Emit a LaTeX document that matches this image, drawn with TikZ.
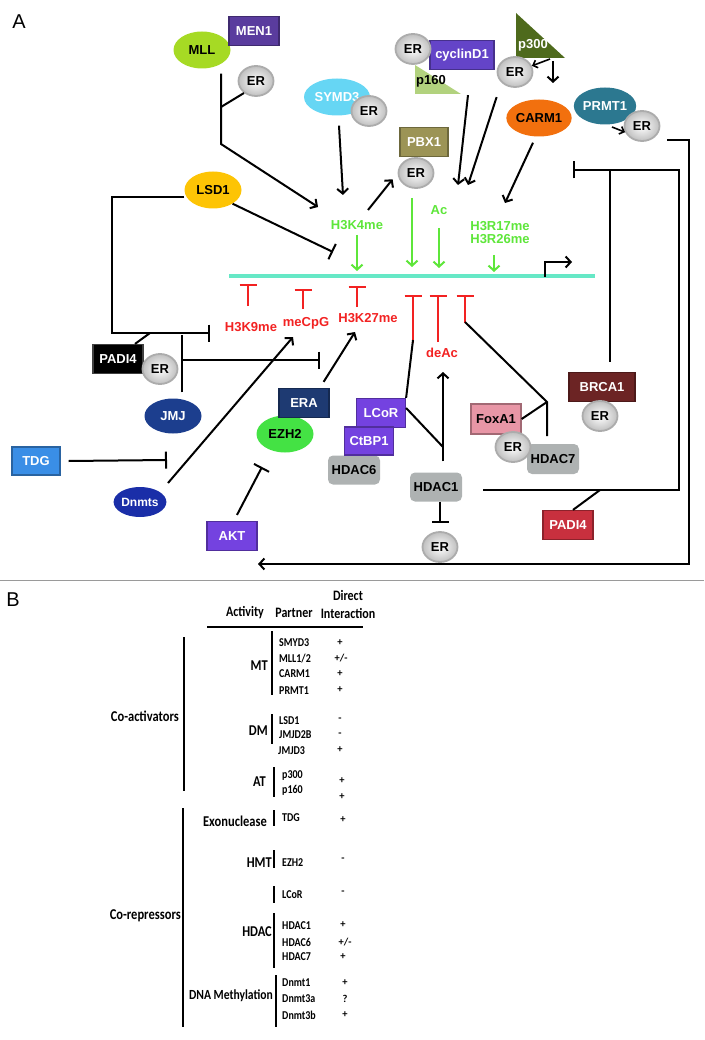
\documentclass[tikz,border=0pt]{standalone}
\usepackage{fontspec}
\setmainfont{Liberation Sans}
\newfontfamily\tabfont{Carlito}
\usetikzlibrary{shapes.geometric,arrows.meta}

\definecolor{menpurple}{HTML}{5A3C9E}
\definecolor{cycpurple}{HTML}{6444C8}
\definecolor{lcorpurple}{HTML}{7442E0}
\definecolor{mllgreen}{HTML}{A6DA24}
\definecolor{symcyan}{HTML}{66D6F4}
\definecolor{pbxolive}{HTML}{9C9456}
\definecolor{p160green}{HTML}{B2D27E}
\definecolor{p300olive}{HTML}{4E6A1C}
\definecolor{carmorange}{HTML}{F2700E}
\definecolor{prmteal}{HTML}{2C7890}
\definecolor{lsdyellow}{HTML}{FDC405}
\definecolor{jmjblue}{HTML}{1C3E8E}
\definecolor{dnmtblue}{HTML}{1A2EA8}
\definecolor{eranavy}{HTML}{1E3A72}
\definecolor{ezhgreen}{HTML}{44E244}
\definecolor{tdgblue}{HTML}{3A8EE6}
\definecolor{brcared}{HTML}{6C2424}
\definecolor{padired}{HTML}{C8303E}
\definecolor{foxpink}{HTML}{E896A6}
\definecolor{hdacgrey}{HTML}{AEB2B2}
\definecolor{dnacyan}{HTML}{66E8C6}
\definecolor{actgreen}{HTML}{5EE63A}
\definecolor{repred}{HTML}{F22222}
\definecolor{sepgrey}{HTML}{9A9A9A}

\newcommand\tall[1]{\scalebox{1}[1.2]{#1}}

\tikzset{
  lab/.style={font=\fontsize{13}{15}\selectfont\bfseries, inner sep=0pt},
  box/.style={lab, rectangle, fill=#1, draw=#1!70!black, line width=1.2pt, text=white,
    minimum width=50pt, minimum height=29pt},
  greybox/.style={lab, rectangle, rounded corners=5pt, fill=hdacgrey,
    minimum width=52pt, minimum height=29pt},
  oval/.style={lab, ellipse, fill=#1, minimum width=57pt, minimum height=37pt},
  er/.style={lab, ellipse, draw=gray!65, line width=1.8pt, shade, inner color=white,
    outer color=gray!50, minimum width=35pt, minimum height=30pt},
  link/.style={line width=2pt},
  arr/.style={line width=2pt, -{Straight Barb[length=5pt,width=11pt]}},
  smallarr/.style={line width=1.6pt, -{Straight Barb[length=4pt,width=8pt]}},
  tee/.style={line width=2pt, -{Bar[width=17pt]}},
  act/.style={line width=2pt, actgreen, -{Straight Barb[length=5pt,width=11pt]}},
  rep/.style={line width=2pt, repred, -{Bar[width=17pt]}},
  actlab/.style={lab, text=actgreen},
  replab/.style={lab, text=repred},
  tabhead/.style={font=\tabfont\bfseries\fontsize{12}{14}\selectfont, inner sep=0pt},
  tabgroup/.style={font=\tabfont\bfseries\fontsize{12.5}{14}\selectfont, inner sep=0pt, anchor=east},
  tabitem/.style={font=\tabfont\bfseries\fontsize{10}{12}\selectfont, inner sep=0pt, anchor=west},
  tabval/.style={font=\tabfont\bfseries\fontsize{10.5}{12}\selectfont, inner sep=0pt},
  tabrule/.style={line width=2pt}
}

\begin{document}
\begin{tikzpicture}[x=1pt,y=-1pt]
  \useasboundingbox (0,0) rectangle (704,1040);
  \node[font=\fontsize{20}{22}\selectfont] (pa) at (19,22) {A};

  \node[oval=mllgreen] (mll) at (202,50) {MLL};
  \node[box=menpurple] (men1) at (254,31) {MEN1};
  \node[er] (er1) at (256,81) {ER};
  \node[oval=symcyan, text=white, minimum width=66pt] (symd3) at (337,97) {SYMD3};
  \node[er] (er2) at (369,111) {ER};
  \node[box=pbxolive, minimum width=48pt] (pbx1) at (424,142) {PBX1};
  \node[er] (er3) at (416,173) {ER};
  \fill[p160green] (415,65) -- (415,94) -- (461,94) -- cycle;
  \node[lab] (p160) at (431,81) {p160};
  \node[box=cycpurple, minimum width=64pt] (cyclind1) at (462,55) {cyclinD1};
  \node[er] (er4) at (413,49) {ER};
  \fill[p300olive] (516,13) -- (516,58) -- (565,58) -- cycle;
  \node[lab, text=white] (p300) at (533,45) {p300};
  \node[er] (er5) at (515,72) {ER};
  \node[oval=carmorange] (carm1) at (539,118) {CARM1};
  \node[oval=prmteal, text=white, minimum width=60pt] (prmt1) at (605,106) {PRMT1};
  \node[er] (er6) at (642,126) {ER};
  \node[oval=lsdyellow] (lsd1) at (213,190) {LSD1};
  \node[box=black, draw=gray!50!black] (padi4a) at (118,359) {PADI4};
  \node[er] (er7) at (160,369) {ER};
  \node[oval=jmjblue, text=white, minimum height=35pt] (jmj) at (173,416) {JMJ};
  \node[box=tdgblue, minimum width=48pt, minimum height=28pt] (tdg) at (36,461) {TDG};
  \node[oval=dnmtblue, text=white, minimum width=51pt, minimum height=30pt,
    font=\fontsize{12}{14}\selectfont\bfseries] (dnmts) at (140,502) {Dnmts};
  \node[oval=ezhgreen] (ezh2) at (285,434) {EZH2};
  \node[box=eranavy] (era) at (304,403) {ERA};
  \node[box=lcorpurple] (akt) at (232,536) {AKT};
  \node[greybox] (hdac6) at (354,470) {HDAC6};
  \node[box=lcorpurple, minimum width=49pt] (lcor) at (381,413) {LCoR};
  \node[box=lcorpurple, minimum width=49pt, minimum height=28pt] (ctbp1) at (369,441) {CtBP1};
  \node[greybox] (hdac1) at (436,487) {HDAC1};
  \node[er] (er8) at (440,547) {ER};
  \node[greybox, minimum height=30pt] (hdac7) at (553,459) {HDAC7};
  \node[box=foxpink, text=black, minimum height=30pt] (foxa1) at (496,419) {FoxA1};
  \node[er] (er9) at (513,447) {ER};
  \node[box=brcared, minimum width=66pt] (brca1) at (602,387) {BRCA1};
  \node[er] (er10) at (600,416) {ER};
  \node[box=padired] (padi4b) at (568,525) {PADI4};

  \node[actlab] (h3k4) at (357,225) {H3K4me};
  \node[actlab] (ac) at (439,210) {Ac};
  \node[actlab] (h3r17) at (500,226) {H3R17me};
  \node[actlab] (h3r26) at (500,239) {H3R26me};
  \node[replab] (h3k9) at (251,327) {H3K9me};
  \node[replab] (mecpg) at (306,323) {meCpG};
  \node[replab] (h3k27) at (368,318) {H3K27me};
  \node[replab] (deac) at (442,353) {deAc};

  \coordinate (mllbend) at (221,144);
  \coordinate (mllj) at (221,107);
  \coordinate (k4a) at (318,207);
  \coordinate (k4b) at (343,195);
  \coordinate (k4up) at (368,210);
  \coordinate (acA) at (458,185);
  \coordinate (acB) at (468,185);
  \coordinate (p3a) at (550,59);
  \coordinate (p3b) at (553,61);
  \coordinate (p3c) at (553,83);
  \coordinate (rme) at (505,203);
  \coordinate (prs) at (612,127);
  \coordinate (prA) at (667,140);
  \coordinate (prB) at (689,140);
  \coordinate (prC) at (689,564);
  \coordinate (prD) at (258,564);
  \coordinate (brL) at (483,490);
  \coordinate (brB) at (679,490);
  \coordinate (brR) at (679,170);
  \coordinate (brT) at (573,170);
  \coordinate (brJ) at (610,170);
  \coordinate (padj) at (600,490);
  \coordinate (lsdT) at (333,252);
  \coordinate (lsdbend1) at (112,197);
  \coordinate (lsdbend2) at (112,333);
  \coordinate (k9T) at (210,333);
  \coordinate (padij) at (150,333);
  \coordinate (jmjtop) at (182,335);
  \coordinate (jmjj) at (182,360);
  \coordinate (k27T) at (320,360);
  \coordinate (tdgT) at (167,460);
  \coordinate (cpgA) at (293,337);
  \coordinate (k27A) at (355,332);
  \coordinate (ezhT) at (262,467);
  \coordinate (t1) at (413,340);
  \coordinate (t3) at (465,322);
  \coordinate (hdj) at (443,447);
  \coordinate (deacA) at (443,372);
  \coordinate (foxj) at (547,402);
  \coordinate (foxjb) at (547,436);

  \draw[dnacyan, line width=4pt] (229,276) -- (595,276);
  \draw[arr] (545,277) -- (545,262) -- (572,262);

  \draw[act] (357,235) -- (357,271);
  \draw[act] (412,198) -- (412,267);
  \draw[act] (439,228) -- (439,268);
  \draw[act] (494,255) -- (494,272);
  \draw[rep] (248,306) -- (248,284);
  \draw[rep] (303,309) -- (303,289);
  \draw[rep] (357,307) -- (357,286);
  \draw[rep] (413,343) -- (413,295);
  \draw[rep] (438,342) -- (438,295);
  \draw[rep] (465,323) -- (465,295);

  \draw[arr] ([xshift=19pt,yshift=-5pt]mll.south) -- (mllbend) -- (k4a);
  \draw[link] (er1.225) -- (mllj);
  \draw[arr] ([xshift=2pt,yshift=-10pt]symd3.south) -- (k4b);
  \draw[arr, shorten >=8pt] (k4up) -- (er3.west);
  \draw[arr] ([xshift=6pt,yshift=-25pt]cyclind1.south) -- (acA);
  \draw[arr] ([xshift=2pt,yshift=-27pt]cyclind1.south east) -- (acB);
  \draw[smallarr] (p3a) -- (er5.20);
  \draw[arr] (p3b) -- (p3c);
  \draw[arr] ([xshift=-6pt,yshift=-6pt]carm1.south) -- (rme);
  \draw[smallarr] (prs) -- (er6.200);
  \draw[arr] (prA) -- (prB) -- (prC) -- (prD);
  \draw[tee] (brL) -- (brB) -- (brR) -- (brT);
  \draw[link] (brJ) -- ([xshift=8pt,yshift=10pt]brca1.north);
  \draw[link] (padj) -- ([xshift=5pt]padi4b.north);

  \draw[tee] ([yshift=-7pt]lsd1.west) -- (lsdbend1) -- (lsdbend2) -- (k9T);
  \draw[tee] (lsd1.-35) -- (lsdT);
  \draw[link] ([xshift=17pt]padi4a.north) -- (padij);
  \draw[link] ([xshift=9pt,yshift=6pt]jmj.north) -- (jmjtop);
  \draw[tee] (jmjj) -- (k27T);
  \draw[tee] ([xshift=8pt]tdg.east) -- (tdgT);
  \draw[arr] ([shift={(28pt,19pt)}]dnmts.center) -- (cpgA);
  \draw[arr] ([xshift=-6pt,yshift=6pt]era.north east) -- (k27A);
  \draw[tee] ([xshift=5pt,yshift=6pt]akt.north) -- (ezhT);

  \draw[link] (t1) -- (lcor.north east);
  \draw[link] ([yshift=5pt]lcor.east) -- (hdj);
  \draw[arr] ([xshift=7pt,yshift=11pt]hdac1.north) -- (deacA);
  \draw[tee, shorten >=8pt] ([xshift=4pt]hdac1.south) -- (er8.north);
  \draw[link] (t3) -- (foxj) -- (foxjb);
  \draw[link] (foxj) -- (foxa1.east);

  \draw[sepgrey, line width=1pt] (0,580) -- (704,580);

  \node[font=\fontsize{20}{22}\selectfont] (pb) at (13,600) {B};
  \node[tabhead] (hdir) at (348,595) {\tall{Direct}};
  \node[tabhead] (hact) at (245,613) {\tall{Activity}};
  \node[tabhead] (hpart) at (294,613) {\tall{Partner}};
  \node[tabhead] (hint) at (348,613) {\tall{Interaction}};
  \draw[tabrule] (207,627) -- (363,627);

  \node[tabgroup] (coact) at (179,716) {\tall{Co-activators}};
  \node[tabgroup] (gmt) at (268,666) {\tall{MT}};
  \node[tabgroup] (gdm) at (268,731) {\tall{DM}};
  \node[tabgroup] (gat) at (266,782) {\tall{AT}};
  \node[tabgroup] (corep) at (181,916) {\tall{Co-repressors}};
  \node[tabgroup] (gexo) at (267,821) {\tall{Exonuclease}};
  \node[tabgroup] (ghmt) at (272,863) {\tall{HMT}};
  \node[tabgroup] (ghdac) at (272,932) {\tall{HDAC}};
  \node[tabgroup, font=\tabfont\bfseries\fontsize{11.6}{14}\selectfont] (gdna) at (273,996) {\tall{DNA Methylation}};

  \draw[tabrule] (184,637) -- (184,791);
  \draw[tabrule] (272,631) -- (272,695);
  \draw[tabrule] (272,714) -- (272,744);
  \draw[tabrule] (274,767) -- (274,797);
  \draw[tabrule] (183,808) -- (183,1027);
  \draw[tabrule] (274,810) -- (274,826);
  \draw[tabrule] (274,850) -- (274,868);
  \draw[tabrule] (274,886) -- (274,903);
  \draw[tabrule] (274,913) -- (274,968);
  \draw[tabrule] (276,975) -- (276,1027);

  \node[tabitem] (smyd3) at (279,643) {\tall{SMYD3}};
  \node[tabitem] (mll12) at (279,659) {\tall{MLL1/2}};
  \node[tabitem] (carm) at (279,674) {\tall{CARM1}};
  \node[tabitem] (prmt) at (279,691) {\tall{PRMT1}};
  \node[tabitem] (lsd) at (279,721) {\tall{LSD1}};
  \node[tabitem] (jmjd2b) at (279,735) {\tall{JMJD2B}};
  \node[tabitem] (jmjd3) at (278,751) {\tall{JMJD3}};
  \node[tabitem] (tp300) at (282,775) {\tall{p300}};
  \node[tabitem] (tp160) at (282,790) {\tall{p160}};
  \node[tabitem] (ttdg) at (282,818) {\tall{TDG}};
  \node[tabitem] (tezh) at (282,863) {\tall{EZH2}};
  \node[tabitem] (tlcor) at (282,895) {\tall{LCoR}};
  \node[tabitem] (thd1) at (282,926) {\tall{HDAC1}};
  \node[tabitem] (thd6) at (282,942) {\tall{HDAC6}};
  \node[tabitem] (thd7) at (282,957) {\tall{HDAC7}};
  \node[tabitem] (tdn1) at (282,983) {\tall{Dnmt1}};
  \node[tabitem] (tdn3a) at (282,999) {\tall{Dnmt3a}};
  \node[tabitem] (tdn3b) at (282,1015) {\tall{Dnmt3b}};

  \node[tabval] (v1) at (340,643) {+};
  \node[tabval] (v2) at (341,658) {+/-};
  \node[tabval] (v3) at (340,674) {+};
  \node[tabval] (v4) at (340,690) {+};
  \node[tabval] (v5) at (340,720) {-};
  \node[tabval] (v6) at (340,735) {-};
  \node[tabval] (v7) at (340,750) {+};
  \node[tabval] (v8) at (342,781) {+};
  \node[tabval] (v9) at (342,797) {+};
  \node[tabval] (v10) at (343,820) {+};
  \node[tabval] (v11) at (343,860) {-};
  \node[tabval] (v12) at (343,893) {-};
  \node[tabval] (v13) at (343,925) {+};
  \node[tabval] (v14) at (345,942) {+/-};
  \node[tabval] (v15) at (343,957) {+};
  \node[tabval] (v16) at (345,983) {+};
  \node[tabval] (v17) at (345,999) {?};
  \node[tabval] (v18) at (345,1015) {+};
\end{tikzpicture}
\end{document}
